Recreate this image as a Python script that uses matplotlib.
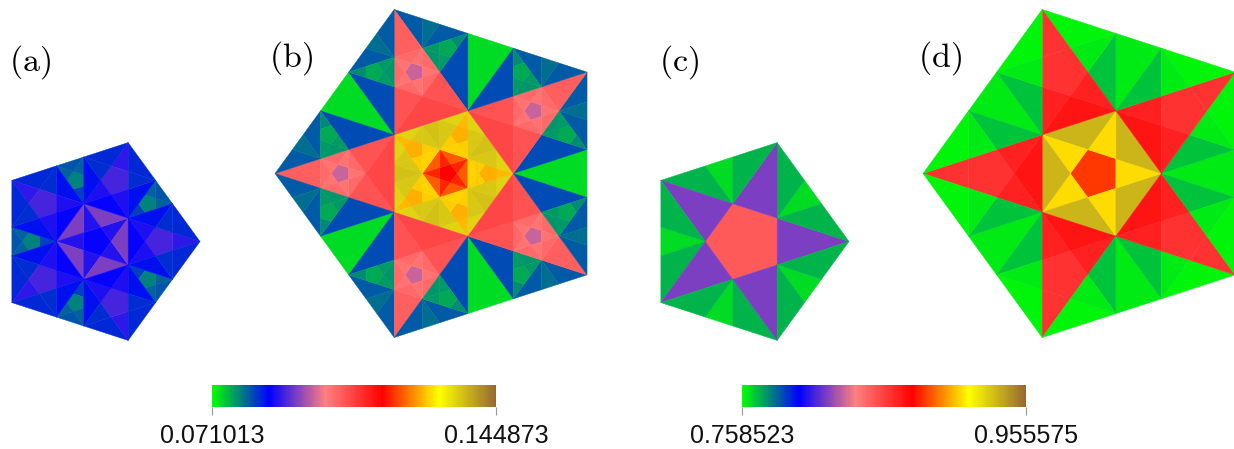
import numpy as np
import matplotlib
matplotlib.use("Agg")
from matplotlib import pyplot as plt
from matplotlib.cm import ScalarMappable
from matplotlib.collections import PolyCollection
from matplotlib.colors import LinearSegmentedColormap, Normalize

plt.rcParams['font.family'] = ['Liberation Sans', 'DejaVu Sans']
plt.rcParams['mathtext.fontset'] = 'cm'

# scale limits printed under the two colour bars
range_ab = [0.071013, 0.144873]
range_cd = [0.758523, 0.955575]

# region names: C centre, A arm, G gap of a pentagon; T tip, P pentagon,
# S side, B base of an arm; O outer, I inner, M middle of a gap part
regions_a = ['C.C', 'C.A', 'C.G', 'A.T', 'A.P', 'A.S', 'A.B',
             'G.M.T', 'G.M.P', 'G.M.S', 'G.M.B', 'G.S.O', 'G.S.I', 'G.S.M']
values_a = [0.0862, 0.0880, 0.0932, 0.0884, 0.0898, 0.0876, 0.0861,
            0.0821, 0.0784, 0.0802, 0.0810, 0.0836, 0.0851, 0.0832]

regions_b = ['C.C.C', 'C.C.A', 'C.C.G', 'C.A.T', 'C.A.P', 'C.A.S', 'C.A.B',
             'C.G.M', 'C.G.S.O', 'C.G.S.M', 'C.G.S.I',
             'A.T', 'A.P.C', 'A.P.A', 'A.P.G', 'A.S', 'A.B',
             'G.M', 'G.S.O.O', 'G.S.O.I', 'G.S.O.M',
             'G.S.M.T', 'G.S.M.P', 'G.S.M.S', 'G.S.M.B', 'G.S.I']
values_b = [0.1153, 0.1173, 0.1205, 0.1260, 0.1253, 0.1271, 0.1275,
            0.1360, 0.1342, 0.1356, 0.1356,
            0.1043, 0.0973, 0.1020, 0.1032, 0.1057, 0.1072,
            0.0732, 0.0806, 0.0806, 0.0795,
            0.0777, 0.0762, 0.0769, 0.0773, 0.0814]

regions_c = ['C', 'A', 'G.M', 'G.S']
values_c = [0.8492, 0.8176, 0.7644, 0.7703]

regions_d = ['C.C', 'C.A', 'C.G', 'A.T', 'A.P', 'A.S', 'A.B',
             'G.M', 'G.S.O', 'G.S.M', 'G.S.I']
values_d = [0.8852, 0.9103, 0.9349, 0.8610, 0.8610, 0.8669, 0.8708,
            0.7617, 0.7605, 0.7617, 0.7684]

panel_labels = ['(a)', '(b)', '(c)', '(d)']

cmap = LinearSegmentedColormap.from_list('spectrum', [
    (0.0, (0, 1, 0)), (0.2, (0, 0, 1)), (0.4, (1, 0.5, 0.5)),
    (0.6, (1, 0, 0)), (0.8, (1, 1, 0)), (1.0, (0.59, 0.41, 0.2))])

G1 = 0.381966
G2 = 0.618034
W, H = 1234, 449


def cut(table, out, key, verts):
    # returns True if this region is a leaf of the panel's table
    if key in table:
        out.append((np.array(verts), table[key]))
        return True
    return False


def pentagon(v, key, table, out):
    pre = key + '.' if key else ''
    if key and cut(table, out, key, v):
        return
    apex = [v[i] + G1 * (v[(i + 2) % 5] - v[i]) for i in range(5)]
    pentagon(apex, pre + 'C', table, out)
    for i in range(5):
        vi, vj = v[i], v[(i + 1) % 5]
        acute(vi, apex[i - 1], apex[i], pre + 'A', table, out)
        if cut(table, out, pre + 'G', [apex[i], vi, vj]):
            continue
        p1 = vi + G1 * (vj - vi)
        p2 = vi + G2 * (vj - vi)
        acute(apex[i], p1, p2, pre + 'G.M', table, out)
        gnomon(p1, vi, apex[i], pre + 'G.S', table, out)
        gnomon(p2, vj, apex[i], pre + 'G.S', table, out)


def acute(tip, b1, b2, key, table, out):
    if cut(table, out, key, [tip, b1, b2]):
        return
    a1, c1 = tip + G1 * (b1 - tip), tip + G2 * (b1 - tip)
    a2, c2 = tip + G1 * (b2 - tip), tip + G2 * (b2 - tip)
    peak = tip + 2 * G1 * ((b1 + b2) / 2 - tip)
    acute(tip, a1, a2, key + '.T', table, out)
    pentagon([a1, c1, peak, c2, a2], key + '.P', table, out)
    acute(b1, c1, peak, key + '.S', table, out)
    acute(b2, c2, peak, key + '.S', table, out)
    cut(table, out, key + '.B', [peak, b1, b2])


def gnomon(top, b1, b2, key, table, out):
    if cut(table, out, key, [top, b1, b2]):
        return
    p1 = b1 + G1 * (b2 - b1)
    p2 = b1 + G2 * (b2 - b1)
    gnomon(p1, b1, top, key + '.O', table, out)
    gnomon(p2, b2, top, key + '.I', table, out)
    acute(top, p1, p2, key + '.M', table, out)


def draw_panel(fig, cx, cy, r, start, regions, values, limits):
    pad = 1.1
    ax = fig.add_axes([(cx - pad * r) / W, 1 - (cy + pad * r) / H,
                       2 * pad * r / W, 2 * pad * r / H])
    ax.set_xlim(-pad, pad)
    ax.set_ylim(-pad, pad)
    ax.axis('off')
    angles = np.radians(start + 72 * np.arange(5))
    outer = [np.array([np.cos(a), np.sin(a)]) for a in angles]
    pieces = []
    pentagon(outer, '', dict(zip(regions, values)), pieces)
    polys = PolyCollection([p[0] for p in pieces], cmap=cmap,
                           norm=Normalize(*limits), edgecolors='face', linewidths=0.3)
    polys.set_array(np.array([p[1] for p in pieces]))
    ax.add_collection(polys)


def draw_bar(fig, x0, x1, limits):
    cax = fig.add_axes([x0 / W, 1 - 407 / H, (x1 - x0) / W, 22 / H])
    bar = fig.colorbar(ScalarMappable(Normalize(*limits), cmap), cax=cax,
                       orientation='horizontal', ticks=limits, format='%.6f')
    bar.outline.set_visible(False)
    bar.ax.tick_params(length=6, width=0.8, color='#999999', labelsize=18, pad=6, labelcolor='#111111')


fig = plt.figure(figsize=(W / 100, H / 100), dpi=100)

draw_panel(fig, 96, 241.5, 104, 0, regions_a, values_a, range_ab)
draw_panel(fig, 447.5, 173.5, 172.5, 180, regions_b, values_b, range_ab)
draw_panel(fig, 745, 241.5, 104, 0, regions_c, values_c, range_cd)
draw_panel(fig, 1095.5, 173.5, 172.5, 180, regions_d, values_d, range_cd)

draw_bar(fig, 212, 496, range_ab)
draw_bar(fig, 742, 1026, range_cd)

for label, x, y in zip(panel_labels, [9, 269, 659, 918], [62, 58, 62, 58]):
    fig.text(x / W, 1 - y / H, '$\\mathrm{' + label + '}$', fontsize=24.5, va='center', ha='left')

fig.savefig('out.png', dpi=100)
